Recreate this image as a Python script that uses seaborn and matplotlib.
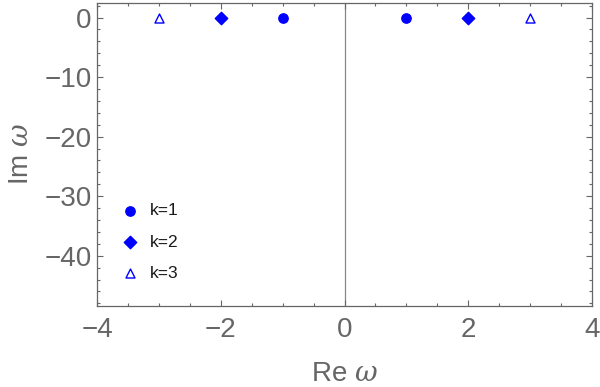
import pandas as pd
import matplotlib.pyplot as plt
import seaborn as sns
from matplotlib.ticker import MultipleLocator

# Data: mode frequencies for each k
re_k1 = [-1, 1]
im_k1 = [-0.05, -0.05]
re_k2 = [-2, 2]
im_k2 = [-0.1, -0.1]
re_k3 = [-3, 3]
im_k3 = [-0.15, -0.15]

df = pd.DataFrame({
    'Re': re_k1 + re_k2 + re_k3,
    'Im': im_k1 + im_k2 + im_k3,
    'k': ['k=1'] * 2 + ['k=2'] * 2 + ['k=3'] * 2,
})

sns.set_style("ticks")
plt.rcParams['font.family'] = ['Liberation Sans', 'DejaVu Sans']
plt.rcParams['mathtext.fontset'] = 'dejavuserif'

fig = plt.figure(figsize=(6, 3.87), dpi=100)
ax = fig.add_axes([0.1617, 0.21, 0.825, 0.783])

gray = '#666666'
ax.axvline(0, color='#888888', lw=0.9, zorder=0)

for lab, mk, fc, ms in [('k=1', 'o', 'blue', 45), ('k=2', 'D', 'blue', 40), ('k=3', '^', 'white', 42)]:
    sub = df[df['k'] == lab]
    sns.scatterplot(data=sub, x='Re', y='Im', marker=mk, s=ms, color=fc,
                    edgecolor='blue', linewidth=1.0, label=lab, ax=ax, zorder=3)

ax.set_xlim(-4, 4)
ax.set_ylim(-48.4, 2.5)
ax.xaxis.set_major_locator(MultipleLocator(2))
ax.xaxis.set_minor_locator(MultipleLocator(0.5))
ax.yaxis.set_major_locator(MultipleLocator(10))
ax.yaxis.set_minor_locator(MultipleLocator(2))
ax.tick_params(which='both', direction='in', top=True, right=True, color=gray,
               labelcolor=gray, labelsize=20)
ax.tick_params(which='major', length=4, width=0.8)
ax.tick_params(which='minor', length=2, width=0.8)
ax.tick_params(axis='x', pad=8)
ax.tick_params(axis='y', pad=4)
for sp in ax.spines.values():
    sp.set_color(gray)
    sp.set_linewidth(0.9)

ax.set_xlabel(r'Re $\mathit{\omega}$', fontsize=20, color=gray, labelpad=13)
ax.set_ylabel(r'Im $\mathit{\omega}$', fontsize=20, color=gray, labelpad=7)

leg = ax.legend(loc='upper left', bbox_to_anchor=(0.0, 0.39), frameon=False,
                fontsize=12.5, labelspacing=0.93, handletextpad=0.15, markerscale=1.0)
for t in leg.get_texts():
    t.set_color('#1a1a1a')

fig.savefig('out.png', dpi=100)
